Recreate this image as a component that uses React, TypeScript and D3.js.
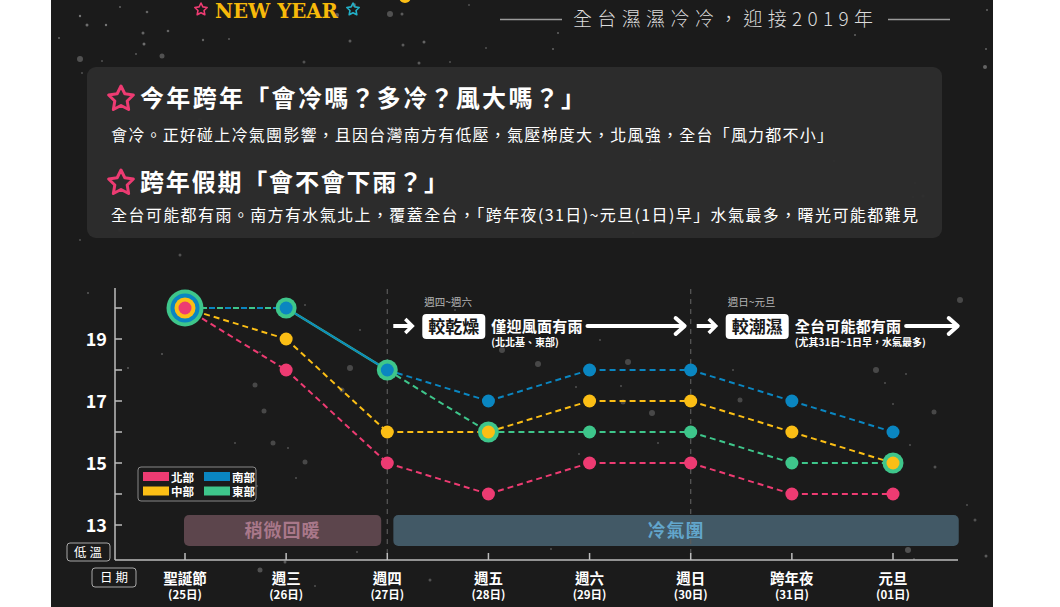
import React from 'react';
import * as d3 from 'd3';

// ---------- data ----------
const days = ['聖誕節', '週三', '週四', '週五', '週六', '週日', '跨年夜', '元旦'];
const dates = ['(25日)', '(26日)', '(27日)', '(28日)', '(29日)', '(30日)', '(31日)', '(01日)'];
const north = [20, 18, 15, 14, 15, 15, 14, 14];
const central = [20, 19, 16, 16, 17, 17, 16, 15];
const south = [20, 20, 18, 17, 18, 18, 17, 16];
const east = [20, 20, 18, 16, 16, 16, 15, 15];
const yTicks = [13, 14, 15, 16, 17, 18, 19, 20];
const yLabels = [13, 15, 17, 19];
const solidSharedSegments = [1]; // segment index (day i -> i+1) drawn solid where lines coincide
const dividerDays = [2, 5];

const bandLabels = ['稍微回暖', '冷氣團'];
const bandStart = [-0.01, 2.06];
const bandEnd = [1.94, 7.65];

const periodRanges = ['週四~週六', '週日~元旦'];
const periodTags = ['較乾燥', '較潮濕'];
const periodDescs = ['僅迎風面有雨', '全台可能都有雨'];
const periodNotes = ['(北北基、東部)', '(尤其31日~1日早，水氣最多)'];
const periodStart = [2, 5];
const periodArrowEnd = [4.94, 7.64];

const title1 = '今年跨年「會冷嗎？多冷？風大嗎？」';
const body1 = '會冷。正好碰上冷氣團影響，且因台灣南方有低壓，氣壓梯度大，北風強，全台「風力都不小」';
const title2 = '跨年假期「會不會下雨？」';
const body2 = '全台可能都有雨。南方有水氣北上，覆蓋全台，「跨年夜(31日)~元旦(1日)早」水氣最多，曙光可能都難見';

// decorative snow
const snow: [number, number, number, number][] = [
  [80, 16, 1.2, 0.5], [87, 25, 1.5, 0.45], [106, 25, 1.2, 0.5], [120, 7, 1, 0.4], [147, 12, 1.3, 0.4],
  [168, 31, 1.3, 0.4], [143, 33, 1.5, 0.4], [144, 44, 1.5, 0.45], [59, 38, 1, 0.4], [80, 59, 3, 0.3],
  [162, 56, 2.5, 0.3], [136, 54, 1, 0.35], [203, 40, 1.2, 0.4], [229, 39, 1, 0.35], [350, 41, 1.5, 0.35],
  [337, 15, 2, 0.35], [354, 5, 2, 0.35], [390, 14, 3, 0.3], [424, 42, 1.5, 0.4], [403, 45, 1.5, 0.35],
  [419, 63, 1.5, 0.35], [402, 14, 1.5, 0.35], [469, 5, 1, 0.3], [486, 48, 1, 0.3], [450, 62, 1, 0.3],
  [304, 62, 1.5, 0.3], [82, 73, 1, 0.3], [102, 61, 1, 0.3], [558, 33, 1, 0.4], [553, 49, 1, 0.4],
  [855, 35, 1, 0.4], [987, 10, 1, 0.4], [986, 49, 1, 0.4], [985, 67, 2, 0.4],
  [88, 293, 1, 0.35], [128, 368, 1, 0.35], [162, 354, 1, 0.35], [305, 305, 1, 0.3], [260, 352, 1, 0.3],
  [255, 385, 2.5, 0.25], [264, 411, 2.5, 0.25], [273, 443, 2.5, 0.25], [288, 448, 1, 0.3], [305, 462, 2.5, 0.25],
  [235, 443, 1, 0.3], [257, 486, 1, 0.3], [296, 478, 1, 0.3], [350, 368, 3, 0.25], [360, 330, 1, 0.3],
  [342, 390, 2.5, 0.25], [455, 310, 1, 0.3], [502, 350, 3, 0.25], [530, 320, 1, 0.3], [600, 340, 1, 0.3],
  [538, 364, 3, 0.25], [628, 362, 3, 0.25], [576, 387, 1, 0.3], [621, 386, 1, 0.3], [652, 413, 3, 0.25],
  [658, 443, 1, 0.3], [733, 370, 1, 0.3], [832, 342, 2.5, 0.25], [876, 370, 3, 0.25], [885, 383, 1, 0.3],
  [893, 404, 1, 0.3], [934, 412, 2.5, 0.25], [910, 445, 1, 0.3], [935, 467, 1.5, 0.3], [906, 374, 1, 0.3],
  [579, 454, 1, 0.3], [623, 402, 2.5, 0.25], [740, 400, 2.5, 0.25], [960, 300, 3, 0.25], [975, 520, 1.5, 0.3],
  [908, 550, 3, 0.3], [914, 559, 1, 0.3], [967, 505, 1, 0.3], [986, 556, 1.5, 0.35], [551, 549, 1, 0.3],
  [260, 570, 2.5, 0.3], [285, 562, 1.5, 0.35], [315, 586, 1, 0.3], [430, 580, 1.5, 0.3], [357, 552, 1, 0.3],
  [329, 520, 2.5, 0.3], [310, 519, 1.5, 0.3], [470, 525, 1.2, 0.3], [480, 532, 1.2, 0.3], [560, 539, 1.2, 0.3],
  [650, 533, 2.5, 0.25], [790, 533, 1, 0.3], [828, 537, 1, 0.3], [130, 95, 1.5, 0.25], [200, 120, 2, 0.2],
  [230, 145, 1.5, 0.25], [250, 185, 1.5, 0.2], [420, 130, 1.5, 0.2], [650, 160, 1, 0.3], [834, 161, 1, 0.3],
  [915, 183, 1, 0.3], [923, 196, 1.5, 0.3], [913, 197, 1, 0.3], [633, 233, 1, 0.3], [180, 255, 1.5, 0.3],
  [120, 230, 2, 0.3], [80, 240, 1, 0.3],
];

// ---------- layout ----------
const FONT = '"Noto Sans CJK TC", "Noto Sans", sans-serif';
const x = d3.scalePoint<string>().domain(days).range([185, 893]);
const xi = d3.scaleLinear().domain([0, days.length - 1]).range([185, 893]);
const y = d3.scaleLinear().domain([13, 20]).range([525, 308]);

type Series = { name: string; values: number[]; color: string };
// nest order: outer -> inner
const series: Series[] = [
  { name: '東部', values: east, color: '#3ec68b' },
  { name: '南部', values: south, color: '#0a86c1' },
  { name: '中部', values: central, color: '#fbbe15' },
  { name: '北部', values: north, color: '#ed3b72' },
];
const legendOrder = ['北部', '南部', '中部', '東部'];

function starPath(cx: number, cy: number, R: number, r: number) {
  const pts: [number, number][] = [];
  for (let k = 0; k < 10; k++) {
    const a = -Math.PI / 2 + (k * Math.PI) / 5;
    const rad = k % 2 === 0 ? R : r;
    pts.push([cx + rad * Math.cos(a), cy + rad * Math.sin(a)]);
  }
  return 'M' + pts.map((p) => p.join(',')).join('L') + 'Z';
}

const line = d3.line<[number, number]>();

export default function App() {
  // line segments
  const segs: JSX.Element[] = [];
  for (let i = 0; i < days.length - 1; i++) {
    const used = new Set<number>();
    series.forEach((s, si) => {
      if (used.has(si)) return;
      const group = series
        .map((t, ti) => ti)
        .filter((ti) => series[ti].values[i] === s.values[i] && series[ti].values[i + 1] === s.values[i + 1]);
      group.forEach((g) => used.add(g));
      const pts: [number, number][] = [
        [x(days[i])!, y(s.values[i])],
        [x(days[i + 1])!, y(s.values[i + 1])],
      ];
      const d = line(pts)!;
      if (group.length === 1) {
        segs.push(
          <path key={`s${i}-${si}`} d={d} stroke={s.color} strokeWidth={2} strokeDasharray="6,4" fill="none" />
        );
      } else if (solidSharedSegments.includes(i)) {
        group.forEach((g, k) => {
          segs.push(
            <path key={`s${i}-${g}`} d={d} stroke={series[g].color} strokeWidth={k === 0 ? 2.6 : 1.5} fill="none" />
          );
        });
      } else {
        const n = group.length;
        group.forEach((g, k) => {
          segs.push(
            <path
              key={`s${i}-${g}`}
              d={d}
              stroke={series[g].color}
              strokeWidth={2}
              strokeDasharray={`6,${n * 8 - 6}`}
              strokeDashoffset={-k * 8}
              fill="none"
            />
          );
        });
      }
    });
  }

  // circles
  const dots: JSX.Element[] = [];
  days.forEach((day, i) => {
    const used = new Set<number>();
    series.forEach((s, si) => {
      if (used.has(si)) return;
      const group = series.map((t, ti) => ti).filter((ti) => series[ti].values[i] === s.values[i]);
      group.forEach((g) => used.add(g));
      const n = group.length;
      group.forEach((g, k) => {
        dots.push(
          <circle
            key={`c${i}-${g}`}
            cx={x(day)}
            cy={y(s.values[i])}
            r={6.5 + 4 * (n - 1 - k)}
            fill={series[g].color}
          />
        );
      });
    });
  });

  const bandFill = ['#5c454c', '#425966'];
  const bandText = ['#a9788a', '#62a6cc'];

  return (
    <div style={{ position: 'fixed', left: 0, top: 0 }}>
      <svg width={1060} height={607} style={{ display: 'block' }} fontFamily={FONT}>
        <rect x={0} y={0} width={1060} height={607} fill="#ffffff" />
        <rect x={51} y={0} width={942} height={607} fill="#1b1b1b" />
        <defs>
          <clipPath id="panel">
            <rect x={51} y={0} width={942} height={607} />
          </clipPath>
        </defs>
        <g clipPath="url(#panel)">
          {snow.map(([sx, sy, sr, so], k) => (
            <circle key={k} cx={sx} cy={sy} r={sr} fill="#ffffff" opacity={so * 0.8} />
          ))}
        </g>

        {/* header */}
        <circle cx={405} cy={-3} r={6} fill="#fbbe15" />
        <path d={starPath(201, 9.5, 6.5, 3.2)} fill="none" stroke="#ed3b72" strokeWidth={1.6} strokeLinejoin="round" />
        <path d={starPath(353, 9.5, 6.5, 3.2)} fill="none" stroke="#22b0c8" strokeWidth={1.6} strokeLinejoin="round" />
        <text x={215} y={18} fontFamily='"DejaVu Serif", serif' fontWeight={700} fontSize={21} fill="#f7b90a" textLength={123} lengthAdjust="spacingAndGlyphs">
          NEW YEAR
        </text>
        <line x1={500} x2={562} y1={19.5} y2={19.5} stroke="#9a9a9a" strokeWidth={1.3} />
        <line x1={888} x2={950} y1={19.5} y2={19.5} stroke="#9a9a9a" strokeWidth={1.3} />
        <text x={573} y={26} fontSize={19} fontWeight={300} fill="#dddddd" textLength={300} lengthAdjust="spacing">
          全台濕濕冷冷，迎接2019年
        </text>

        {/* info box */}
        <rect x={87} y={67} width={855} height={171} rx={9} fill="#2d2d2d" opacity={0.95} />
        <path d={starPath(121, 99, 13, 6.5)} fill="none" stroke="#ed3b72" strokeWidth={3} strokeLinejoin="round" />
        <text x={140} y={107} fontSize={24} fontWeight={700} fill="#ffffff" textLength={445} lengthAdjust="spacing">
          {title1}
        </text>
        <text x={111} y={141} fontSize={16} fill="#ffffff" textLength={722} lengthAdjust="spacing">
          {body1}
        </text>
        <path d={starPath(121, 183, 13, 6.5)} fill="none" stroke="#ed3b72" strokeWidth={3} strokeLinejoin="round" />
        <text x={140} y={191} fontSize={24} fontWeight={700} fill="#ffffff" textLength={308} lengthAdjust="spacing">
          {title2}
        </text>
        <text x={111} y={221} fontSize={16} fill="#ffffff" textLength={807} lengthAdjust="spacing">
          {body2}
        </text>

        {/* bands */}
        {bandLabels.map((b, k) => (
          <g key={b}>
            <rect
              x={xi(bandStart[k])}
              y={515}
              width={xi(bandEnd[k]) - xi(bandStart[k])}
              height={31}
              rx={5}
              fill={bandFill[k]}
            />
            <text
              x={(xi(bandStart[k]) + xi(bandEnd[k])) / 2}
              y={537}
              textAnchor="middle"
              fontSize={18}
              fontWeight={700}
              fill={bandText[k]}
              letterSpacing={1}
            >
              {b}
            </text>
          </g>
        ))}

        {/* dividers */}
        {dividerDays.map((d) => (
          <line key={d} x1={xi(d)} x2={xi(d)} y1={289} y2={560} stroke="#5a5a5a" strokeWidth={1.2} strokeDasharray="5,5" />
        ))}

        {/* axes */}
        <line x1={115} x2={115} y1={288} y2={560} stroke="#bdbdbd" strokeWidth={1.5} />
        <line x1={115} x2={958} y1={560} y2={560} stroke="#bdbdbd" strokeWidth={1.5} />
        {yTicks.map((t) => (
          <line key={t} x1={115} x2={122} y1={y(t)} y2={y(t)} stroke="#bdbdbd" strokeWidth={1.5} />
        ))}
        {yLabels.map((t) => (
          <text key={t} x={107} y={y(t) + 6.5} textAnchor="end" fontSize={18} fontWeight={700} fill="#ffffff">
            {t}
          </text>
        ))}
        {days.map((dd, i) => (
          <g key={dd}>
            <line x1={x(dd)} x2={x(dd)} y1={553} y2={560} stroke="#bdbdbd" strokeWidth={1.5} />
            <text x={x(dd)} y={584} textAnchor="middle" fontSize={14.5} fontWeight={700} fill="#ffffff">
              {dd}
            </text>
            <text x={x(dd)} y={599} textAnchor="middle" fontSize={11.5} fontWeight={700} fill="#ffffff">
              {dates[i]}
            </text>
          </g>
        ))}
        <rect x={67} y={543} width={43} height={18} rx={3} fill="none" stroke="#a8a8a8" strokeWidth={1} />
        <text x={89.5} y={557} textAnchor="middle" fontSize={12.5} fill="#ffffff" letterSpacing={3}>
          低溫
        </text>
        <rect x={92} y={568} width={44} height={19} rx={3} fill="none" stroke="#a8a8a8" strokeWidth={1} />
        <text x={115.5} y={582} textAnchor="middle" fontSize={12.5} fill="#ffffff" letterSpacing={3}>
          日期
        </text>

        {/* legend */}
        <rect x={138} y={467} width={118} height={34} rx={3} fill="#1b1b1b" stroke="#888888" strokeWidth={1} />
        {legendOrder.map((nm, k) => {
          const s = series.find((q) => q.name === nm)!;
          const col = k % 2;
          const row = Math.floor(k / 2);
          const lx = 143 + col * 61;
          const ly = 472 + row * 14.5;
          return (
            <g key={nm}>
              <rect x={lx} y={ly} width={26} height={9} fill={s.color} />
              <text x={lx + 28} y={ly + 9.5} fontSize={11.5} fontWeight={700} fill="#ffffff">
                {nm}
              </text>
            </g>
          );
        })}

        {/* lines & dots */}
        {segs}
        {dots}

        {/* period annotations */}
        {periodTags.map((tag, k) => {
          const x0 = xi(periodStart[k]);
          const descW = periodDescs[k].length * 15.2;
          const descX = x0 + 104;
          const aStart = descX + descW + 5;
          const aEnd = xi(periodArrowEnd[k]);
          return (
            <g key={tag}>
              <text x={x0 + 37} y={306} fontSize={10.5} fill="#b5b5b5">
                {periodRanges[k]}
              </text>
              <path d={`M${x0 + 6},326H${x0 + 23}`} stroke="#ffffff" strokeWidth={4} />
              <path d={`M${x0 + 18},319L${x0 + 25},326L${x0 + 18},333`} stroke="#ffffff" strokeWidth={3.5} fill="none" />
              <rect x={x0 + 35} y={314} width={63} height={25} rx={4} fill="#ffffff" />
              <text x={x0 + 66.5} y={333} textAnchor="middle" fontSize={17} fontWeight={700} fill="#1b1b1b">
                {tag}
              </text>
              <text x={descX} y={332} fontSize={15} fontWeight={700} fill="#ffffff" textLength={descW} lengthAdjust="spacing">
                {periodDescs[k]}
              </text>
              <text x={descX} y={346} fontSize={10} fontWeight={700} fill="#ffffff">
                {periodNotes[k]}
              </text>
              <path d={`M${aStart},326H${aEnd - 3}`} stroke="#ffffff" strokeWidth={4} strokeLinecap="round" />
              <path
                d={`M${aEnd - 9},318L${aEnd},326L${aEnd - 9},334`}
                stroke="#ffffff"
                strokeWidth={4}
                strokeLinecap="round"
                strokeLinejoin="round"
                fill="none"
              />
            </g>
          );
        })}
      </svg>
    </div>
  );
}
